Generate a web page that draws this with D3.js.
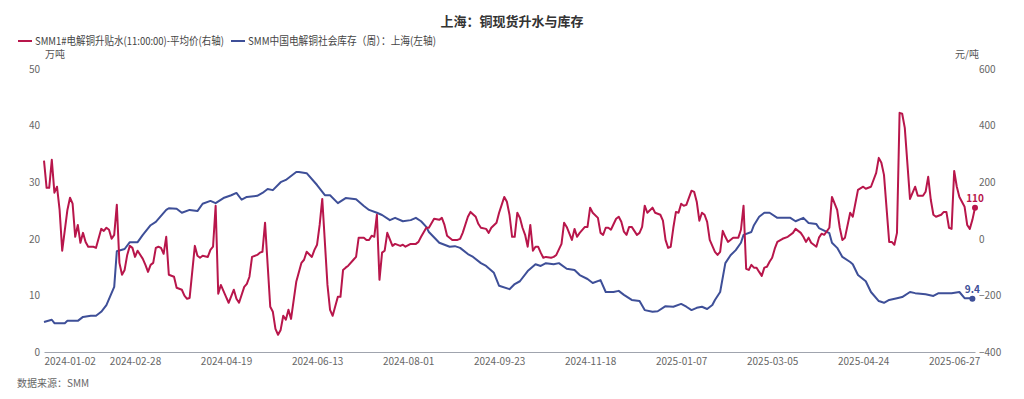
<!DOCTYPE html>
<html>
<head>
<meta charset="utf-8">
<script src="https://cdn.jsdelivr.net/npm/d3@7"></script>
<style>
    body { margin: 0; background: #fff; }
    text { font-family: "Noto Sans CJK SC", "Noto Sans", sans-serif; }
</style>
</head>
<body>
<svg id="chart" width="1024" height="399"></svg>
<script>
// tick labels on the x axis (trading-day index -> date)
const xTickIndex = [0, 35, 70, 105, 140, 175, 210, 245, 280, 315, 350];
const xTickLabels = ["2024-01-02", "2024-02-28", "2024-04-19", "2024-06-13", "2024-08-01",
    "2024-09-23", "2024-11-18", "2025-01-07", "2025-03-05", "2025-04-24", "2025-06-27"];
const lastIndex = 358;

const leftTicks = [0, 10, 20, 30, 40, 50];
const rightTicks = [-400, -200, 0, 200, 400, 600];

const premiumName = "SMM1#电解铜升贴水(11:00:00)-平均价(右轴)";
const stockName = "SMM中国电解铜社会库存（周）：上海(左轴)";

// 升贴水, 元/吨  [trading-day index, value]
const premium = [
    [0,276],[1,180],[2,180],[3,279],[4,163],[5,184],[6,102],[7,-42],[9,102],[10,145],[11,124],[12,7],[13,49],[14,-14],[15,21],[16,-11],[17,-28],[19,-28],[20,-32],[22,35],[23,28],[24,39],[25,32],[26,0],[27,14],[28,120],[29,-85],[30,-127],[31,-110],[32,-57],[33,-25],[34,-32],[35,-64],[36,-42],[38,-71],[39,-92],[40,-117],[41,-92],[42,-85],[43,-32],[44,-28],[45,-32],[46,-53],[47,7],[48,-127],[50,-134],[51,-173],[53,-180],[54,-201],[55,-212],[56,-209],[58,-25],[59,-60],[60,-67],[61,-60],[63,-64],[64,-39],[65,-28],[66,117],[67,-194],[68,-163],[70,-205],[71,-226],[73,-180],[74,-212],[75,-226],[77,-170],[78,-159],[79,-134],[80,-64],[82,-57],[83,-49],[84,-46],[85,57],[87,-240],[88,-258],[89,-318],[90,-339],[91,-322],[92,-272],[93,-286],[94,-251],[95,-283],[97,-152],[99,-85],[100,-74],[101,-46],[103,-64],[104,-39],[105,-21],[106,49],[107,141],[109,-163],[110,-251],[111,-272],[113,-205],[114,-205],[115,-110],[116,-102],[117,-95],[119,-74],[120,-64],[121,4],[123,4],[124,-4],[125,-4],[126,11],[127,7],[128,85],[129,-145],[130,-49],[131,-42],[132,21],[134,-25],[135,-18],[137,-25],[138,-21],[139,-28],[141,-18],[143,-18],[144,-11],[145,7],[147,39],[148,39],[150,71],[152,67],[153,74],[154,49],[155,11],[157,-4],[159,-4],[160,0],[161,21],[163,78],[164,95],[166,78],[167,53],[168,39],[170,35],[171,21],[172,39],[174,57],[175,92],[177,148],[178,131],[179,85],[180,7],[181,7],[182,92],[183,74],[184,39],[185,14],[186,-28],[187,49],[188,-42],[189,-28],[190,-28],[191,-49],[192,-67],[193,-64],[195,-67],[196,-64],[197,-57],[199,-18],[200,57],[201,42],[203,-4],[204,35],[205,7],[206,21],[208,42],[209,42],[210,110],[211,92],[213,74],[214,21],[215,14],[216,39],[217,39],[218,32],[220,71],[221,78],[222,60],[223,25],[224,14],[225,42],[226,42],[228,14],[229,21],[230,42],[231,117],[232,92],[234,110],[235,92],[237,85],[238,64],[239,-4],[240,-32],[241,-28],[242,39],[243,95],[244,92],[245,124],[246,117],[247,120],[249,170],[250,166],[251,131],[252,64],[253,92],[254,85],[255,60],[256,-4],[258,-46],[259,-57],[260,-46],[261,28],[262,7],[263,-11],[265,4],[267,4],[268,32],[269,117],[270,-106],[271,-110],[272,-92],[273,-102],[274,-102],[275,-117],[276,-131],[277,-102],[278,-99],[279,-81],[280,-67],[281,-35],[282,-11],[284,0],[286,7],[288,21],[289,35],[291,21],[292,7],[293,-11],[294,4],[295,-14],[297,-28],[298,4],[299,18],[300,14],[302,39],[303,148],[305,102],[306,39],[307,-4],[308,4],[310,92],[311,78],[313,173],[315,184],[316,177],[318,184],[320,233],[321,286],[322,269],[323,226],[325,-11],[326,-11],[327,-21],[328,21],[329,445],[330,442],[331,392],[333,141],[335,184],[336,152],[338,152],[339,166],[340,219],[341,138],[342,85],[343,78],[345,85],[346,95],[347,95],[348,39],[349,35],[350,240],[351,184],[352,148],[354,113],[355,49],[356,35],[357,67],[358,110]
];

// 社会库存(周), 万吨
const stock = [
    [0,5.3],[3,5.7],[4,5.1],[8,5.1],[9,5.5],[13,5.5],[15,6.2],[18,6.4],[20,6.4],[22,7.1],[24,8.3],[27,11.5],[28,17.8],[31,18.2],[33,19.4],[36,19.4],[38,20.7],[41,22.4],[43,23.0],[47,25.1],[48,25.4],[51,25.3],[53,24.6],[56,25.1],[59,24.9],[61,26.2],[64,26.7],[66,26.3],[69,27.2],[72,27.7],[74,28.1],[76,26.9],[78,27.4],[82,27.6],[84,28.1],[86,28.8],[88,28.6],[91,30.0],[93,30.4],[97,31.8],[98,31.8],[101,31.6],[105,29.5],[108,27.7],[110,27.7],[113,26.3],[116,27.2],[120,27.0],[123,25.8],[125,25.1],[128,24.6],[130,24.2],[133,23.3],[135,23.7],[138,23.1],[141,23.3],[143,23.7],[145,23.1],[147,22.1],[148,21.2],[152,19.3],[156,18.6],[158,18.7],[160,18.4],[163,17.3],[165,16.8],[168,15.7],[170,15.2],[173,14.0],[175,11.7],[179,11.1],[181,12.0],[183,12.5],[186,14.3],[189,15.5],[191,15.2],[193,15.7],[196,15.5],[198,15.7],[201,14.7],[204,14.5],[206,13.6],[209,12.9],[211,12.2],[214,12.7],[216,10.6],[219,10.6],[221,10.8],[223,10.1],[226,9.2],[229,9.0],[231,7.4],[234,7.1],[236,7.2],[239,8.1],[242,8.0],[245,8.5],[247,8.0],[249,7.4],[251,7.8],[253,8.0],[255,7.6],[257,8.3],[258,9.2],[260,10.6],[262,15.7],[264,17.1],[266,18.0],[268,19.3],[269,20.7],[272,21.2],[273,22.4],[275,23.9],[277,24.6],[279,24.6],[282,23.7],[287,23.7],[289,23.1],[292,23.7],[294,22.8],[297,22.6],[298,21.9],[302,21.0],[303,19.3],[305,18.4],[307,16.8],[310,15.9],[311,15.5],[313,13.6],[316,12.5],[318,10.6],[321,9.0],[323,8.7],[325,9.2],[328,9.5],[330,9.7],[333,10.6],[335,10.4],[339,10.2],[342,9.9],[344,10.4],[347,10.4],[349,10.4],[352,10.6],[354,9.5],[356,9.5],[357,9.4]
];

const red = "#b8164b";
const blue = "#3e4f98";

function draw() {
    const svg = d3.select("#chart");
    const left = 44, right = 975, top = 69, bottom = 352;

    const x = d3.scaleLinear().domain([0, lastIndex]).range([left, right]);
    const yLeft = d3.scaleLinear().domain([0, 50]).range([bottom, top]);
    const yRight = d3.scaleLinear().domain([-400, 600]).range([bottom, top]);

    // title
    svg.append("text")
        .attr("x", 512).attr("y", 26)
        .attr("text-anchor", "middle")
        .attr("font-size", 13).attr("font-weight", "bold")
        .attr("fill", "#333")
        .text("上海：铜现货升水与库存");

    // legend (text squeezed to the widths seen in the original)
    const legend = [
        {name: premiumName, color: red, x: 18, w: 189},
        {name: stockName, color: blue, x: 231, w: 188}
    ];
    legend.forEach(l => {
        svg.append("line")
            .attr("x1", l.x).attr("x2", l.x + 14)
            .attr("y1", 41).attr("y2", 41)
            .attr("stroke", l.color).attr("stroke-width", 2);
        svg.append("text")
            .attr("x", l.x + 17).attr("y", 45)
            .attr("font-size", 11).attr("fill", "#444")
            .attr("textLength", l.w).attr("lengthAdjust", "spacingAndGlyphs")
            .text(l.name);
    });

    // units
    svg.append("text").attr("x", 45).attr("y", 58)
        .attr("font-size", 10).attr("fill", "#555").text("万吨");
    svg.append("text").attr("x", 955).attr("y", 58)
        .attr("font-size", 10).attr("fill", "#555").text("元/吨");

    // axes
    const gl = svg.append("g")
        .attr("transform", `translate(${left - 4},0)`)
        .call(d3.axisLeft(yLeft).tickValues(leftTicks).tickSize(0).tickPadding(0));
    const gr = svg.append("g")
        .attr("transform", `translate(${right + 4},0)`)
        .call(d3.axisRight(yRight).tickValues(rightTicks).tickSize(0).tickPadding(0));
    [gl, gr].forEach(g => {
        g.select(".domain").remove();
        g.selectAll("text").attr("font-size", 10).attr("fill", "#666")
            .style("font-family", "'Noto Sans CJK SC', sans-serif");
    });

    const gb = svg.append("g")
        .attr("transform", `translate(0,${bottom})`)
        .call(d3.axisBottom(x).tickValues(xTickIndex)
            .tickFormat((d, i) => xTickLabels[i]).tickSize(0).tickPadding(6));
    gb.select(".domain").attr("stroke", "#a0a4ae");
    gb.selectAll("text").attr("font-size", 10).attr("fill", "#666")
        .style("font-family", "'Noto Sans CJK SC', sans-serif");
    // first label sits to the right of the axis start
    gb.selectAll("text").filter((d, i) => i === 0).attr("text-anchor", "start");

    // lines
    const premiumLine = d3.line()
        .x(d => x(d[0]))
        .y(d => yRight(d[1]));
    const stockLine = d3.line()
        .x(d => x(d[0]))
        .y(d => yLeft(d[1]));

    svg.append("path").datum(stock)
        .attr("d", stockLine)
        .attr("fill", "none").attr("stroke", blue)
        .attr("stroke-width", 2).attr("stroke-linejoin", "round");
    svg.append("path").datum(premium)
        .attr("d", premiumLine)
        .attr("fill", "none").attr("stroke", red)
        .attr("stroke-width", 2).attr("stroke-linejoin", "round");

    // end point markers with value labels
    const endP = premium[premium.length - 1];
    const endS = stock[stock.length - 1];
    const ends = [
        {px: x(endP[0]), py: yRight(endP[1]), v: endP[1], color: red},
        {px: x(endS[0]), py: yLeft(endS[1]), v: endS[1], color: blue}
    ];
    ends.forEach(e => {
        svg.append("circle").attr("cx", e.px).attr("cy", e.py).attr("r", 3)
            .attr("fill", e.color);
        svg.append("text").attr("x", e.px).attr("y", e.py - 6)
            .attr("text-anchor", "middle").attr("font-size", 10)
            .attr("font-weight", "bold").attr("fill", e.color)
            .text(e.v);
    });

    // source
    svg.append("text").attr("x", 17).attr("y", 387)
        .attr("font-size", 10).attr("fill", "#666")
        .text("数据来源：SMM");
}

draw();
</script>
</body>
</html>
